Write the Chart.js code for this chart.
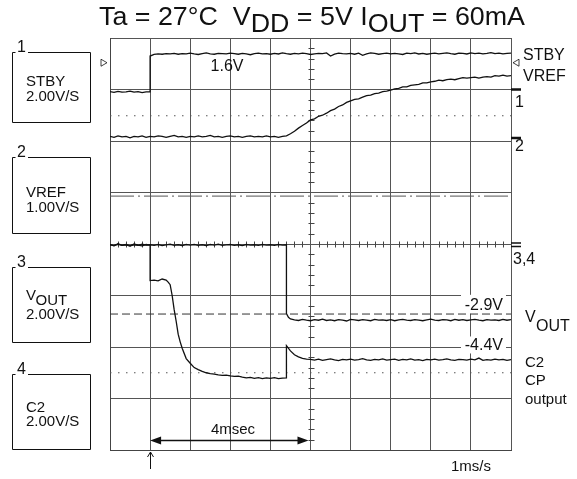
<!DOCTYPE html>
<html>
<head>
<meta charset="utf-8">
<script src="https://cdn.jsdelivr.net/npm/chart.js"></script>
<style>
    html, body { margin: 0; padding: 0; background: #fff; }
    #wrap { width: 577px; height: 479px; position: relative; }
</style>
</head>
<body>
<div id="wrap"><canvas id="scope"></canvas></div>
<script>
    // time in ms (1 ms/div, trigger at 0), values in volts

    // CH1 STBY
    const stbyTime = [
        -1.0,-0.9,-0.8,-0.7,-0.6,-0.5,-0.4,-0.3,-0.2,-0.1, 0, 0,
        0.1,0.2,0.3,0.4,0.5,0.6,0.7,0.8,0.9,1.0,
        1.1,1.2,1.3,1.4,1.5,1.6,1.7,1.8,1.9,2.0,
        2.1,2.2,2.3,2.4,2.5,2.6,2.7,2.8,2.9,3.0,
        3.1,3.2,3.3,3.4,3.5,3.6,3.7,3.8,3.9,4.0,
        4.1,4.2,4.3,4.4,4.5,4.6,4.7,4.8,4.9,5.0,
        5.1,5.2,5.3,5.4,5.5,5.6,5.7,5.8,5.9,6.0,
        6.1,6.2,6.3,6.4,6.5,6.6,6.7,6.8,6.9,7.0,
        7.1,7.2,7.3,7.4,7.5,7.6,7.7,7.8,7.9,8.0,
        8.1,8.2,8.3,8.4,8.5,8.6,8.7,8.8,8.9,9.0
    ];
    const stbyVolts = [
        -0.08,-0.11,-0.07,-0.10,-0.09,-0.06,-0.10,-0.08,-0.12,-0.09, -0.09, 1.30,
        1.36,1.38,1.37,1.39,1.38,1.40,1.37,1.39,1.38,1.41,
        1.38,1.36,1.39,1.42,1.38,1.37,1.40,1.39,1.38,1.41,
        1.39,1.37,1.40,1.38,1.35,1.39,1.41,1.38,1.39,1.37,
        1.40,1.38,1.42,1.39,1.37,1.40,1.38,1.41,1.39,1.36,
        1.38,1.40,1.39,1.42,1.30,1.37,1.41,1.39,1.38,1.40,
        1.37,1.41,1.33,1.38,1.42,1.40,1.37,1.39,1.41,1.38,
        1.40,1.38,1.36,1.41,1.39,1.42,1.38,1.40,1.37,1.39,
        1.41,1.38,1.40,1.42,1.39,1.37,1.41,1.40,1.38,1.42,
        1.39,1.41,1.38,1.40,1.43,1.39,1.41,1.38,1.40,1.41
    ];

    // CH2 VREF
    const vrefTime = [
        -1.0,-0.9,-0.8,-0.7,-0.6,-0.5,-0.4,-0.3,-0.2,-0.1,
        0.0,0.1,0.2,0.3,0.4,0.5,0.6,0.7,0.8,0.9,
        1.0,1.1,1.2,1.3,1.4,1.5,1.6,1.7,1.8,1.9,
        2.0,2.1,2.2,2.3,2.4,2.5,2.6,2.7,2.8,2.9,
        3.0,3.1,3.2,3.3,3.4,3.5,3.6,3.7,3.8,3.9,
        4.0,4.1,4.2,4.3,4.4,4.5,4.6,4.7,4.8,4.9,
        5.0,5.1,5.2,5.3,5.4,5.5,5.6,5.7,5.8,5.9,
        6.0,6.1,6.2,6.3,6.4,6.5,6.6,6.7,6.8,6.9,
        7.0,7.1,7.2,7.3,7.4,7.5,7.6,7.7,7.8,7.9,
        8.0,8.1,8.2,8.3,8.4,8.5,8.6,8.7,8.8,8.9,
        9.0
    ];
    const vrefVolts = [
        0.03,0.01,0.04,0.02,0.03,0.00,0.03,0.02,0.04,0.01,
        0.03,0.02,0.04,0.03,0.01,0.03,0.05,0.02,0.03,0.01,
        0.03,0.02,0.04,0.02,0.03,0.05,0.02,0.03,0.01,0.03,
        0.04,0.02,0.03,0.01,0.03,0.04,0.02,0.03,0.02,0.04,
        0.02,0.03,0.01,0.03,0.04,0.08,0.13,0.19,0.24,0.29,
        0.35,0.37,0.42,0.44,0.48,0.53,0.56,0.61,0.64,0.69,
        0.72,0.75,0.76,0.79,0.82,0.83,0.86,0.87,0.90,0.91,
        0.93,0.95,0.96,0.99,0.99,1.02,1.03,1.04,1.07,1.07,
        1.09,1.10,1.12,1.11,1.13,1.14,1.13,1.15,1.17,1.16,
        1.17,1.18,1.16,1.18,1.19,1.18,1.21,1.20,1.22,1.20,
        1.21
    ];

    // CH3 VOUT
    const voutTime = [
        -1.0,-0.9,-0.8,-0.7,-0.6,-0.5,-0.4,-0.3,-0.2,-0.1,
        0.0,0.1,0.2,0.3,0.4,0.5,0.6,0.7,0.8,0.9,
        1.0,1.1,1.2,1.3,1.4,1.5,1.6,1.7,1.8,1.9,
        2.0,2.1,2.2,2.3,2.4,2.5,2.6,2.7,2.8,2.9,
        3.0,3.1,3.2,3.3,3.4, 3.4,3.45,3.5,
        3.6,3.7,3.8,3.9,4.0,4.1,4.2,4.3,4.4,4.5,
        4.6,4.7,4.8,4.9,5.0,5.1,5.2,5.3,5.4,5.5,
        5.6,5.7,5.8,5.9,6.0,6.1,6.2,6.3,6.4,6.5,
        6.6,6.7,6.8,6.9,7.0,7.1,7.2,7.3,7.4,7.5,
        7.6,7.7,7.8,7.9,8.0,8.1,8.2,8.3,8.4,8.5,
        8.6,8.7,8.8,8.9,9.0
    ];
    const voutVolts = [
        -0.03,-0.06,-0.01,-0.05,-0.02,-0.07,-0.03,-0.05,-0.01,-0.04,
        -0.03,-0.05,-0.02,-0.06,-0.03,-0.01,-0.05,-0.03,-0.06,-0.02,
        -0.04,-0.02,-0.05,-0.03,-0.06,-0.02,-0.04,-0.01,-0.05,-0.03,
        -0.02,-0.05,-0.03,-0.06,-0.02,-0.04,-0.03,-0.05,-0.02,-0.04,
        -0.03,-0.05,-0.02,-0.04,-0.03, -2.70,-2.85,-2.91,
        -2.95,-2.97,-2.93,-2.96,-2.98,-2.94,-2.96,-2.92,-2.97,-2.95,
        -2.98,-2.94,-2.96,-2.99,-2.93,-2.95,-2.97,-2.94,-2.96,-2.98,
        -2.93,-2.96,-2.95,-2.97,-2.94,-2.98,-2.95,-2.93,-2.96,-2.97,
        -2.94,-2.96,-2.98,-2.95,-2.92,-2.96,-2.97,-2.94,-2.95,-2.98,
        -2.93,-2.96,-2.94,-2.97,-2.95,-2.93,-2.96,-2.98,-2.94,-2.96,
        -2.95,-2.97,-2.93,-2.96,-2.94
    ];

    // CH4 C2 (charge pump output)
    const c2Time = [
        -1.0,-0.9,-0.8,-0.7,-0.6,-0.5,-0.4,-0.3,-0.2,-0.1,0,
        0,0.1,0.2,0.3,0.4,0.45,0.5,0.55,0.6,0.65,0.7,0.75,0.8,0.9,
        1.0,1.1,1.2,1.3,1.4,1.5,1.6,1.7,1.8,1.9,
        2.0,2.1,2.2,2.3,2.4,2.5,2.6,2.7,2.8,2.9,
        3.0,3.1,3.2,3.3,3.4, 3.4,
        3.5,3.6,3.7,3.8,3.9,
        4.0,4.1,4.2,4.3,4.4,4.5,4.6,4.7,4.8,4.9,
        5.0,5.1,5.2,5.3,5.4,5.5,5.6,5.7,5.8,5.9,
        6.0,6.1,6.2,6.3,6.4,6.5,6.6,6.7,6.8,6.9,
        7.0,7.1,7.2,7.3,7.4,7.5,7.6,7.7,7.8,7.9,
        8.0,8.1,8.2,8.3,8.4,8.5,8.6,8.7,8.8,8.9,
        9.0
    ];
    const c2Volts = [
        -0.02,-0.07,0.01,-0.05,-0.03,-0.08,0.00,-0.04,-0.07,-0.02,-0.04,
        -1.42,-1.40,-1.43,-1.36,-1.40,-1.48,-1.58,-2.00,-2.55,-3.00,-3.50,-3.80,-4.05,-4.45,
        -4.63,-4.80,-4.88,-4.95,-5.00,-5.03,-5.05,-5.08,-5.10,-5.09,
        -5.12,-5.14,-5.13,-5.17,-5.20,-5.18,-5.22,-5.19,-5.23,-5.20,
        -5.22,-5.19,-5.23,-5.21,-5.20, -3.95,
        -4.15,-4.30,-4.38,-4.44,-4.47,
        -4.48,-4.51,-4.47,-4.52,-4.49,-4.46,-4.50,-4.53,-4.48,-4.50,
        -4.47,-4.51,-4.49,-4.45,-4.50,-4.52,-4.48,-4.50,-4.46,-4.51,
        -4.49,-4.47,-4.52,-4.48,-4.50,-4.46,-4.51,-4.49,-4.53,-4.48,
        -4.50,-4.47,-4.51,-4.49,-4.46,-4.50,-4.52,-4.48,-4.49,-4.51,
        -4.47,-4.50,-4.43,-4.52,-4.49,-4.51,-4.47,-4.50,-4.48,-4.52,
        -4.49
    ];

    // screen divisions: ground marker and V/div of each channel
    const chOffset = { stby: 7.0, vref: 6.06, vout: 4.0, c2: 4.0 };
    const chVdiv   = { stby: 2, vref: 1, vout: 2, c2: 2 };

    // cursor lines (in screen divisions)
    const dotLevels = [6.49, 1.5];
    const dashDotLevel = 4.93;
    const dashLevel = 2.64;

    const FONT = '"Liberation Sans", Arial, Helvetica, sans-serif';

    function toPoints(times, volts, ch) {
        return times.map((t, i) => ({ x: t, y: chOffset[ch] + volts[i] / chVdiv[ch] }));
    }
    function hLine(level) {
        return [{ x: -1, y: level }, { x: 9, y: level }];
    }

    const traceStyle = { borderColor: '#111', borderWidth: 1.3, pointRadius: 0, tension: 0, fill: false, order: 1 };
    const cursorStyle = { borderColor: '#555', borderWidth: 1, pointRadius: 0, fill: false, order: 2 };

    const datasets = [
        { ...cursorStyle, data: hLine(dotLevels[0]), borderDash: [1.5, 6.5] },
        { ...cursorStyle, data: hLine(dotLevels[1]), borderDash: [1.5, 6.5] },
        { ...cursorStyle, data: hLine(dashDotLevel), borderDash: [24, 4, 2, 4] },
        { ...cursorStyle, data: hLine(dashLevel), borderDash: [8, 4], borderColor: '#333' },
        { ...traceStyle, label: 'STBY', data: toPoints(stbyTime, stbyVolts, 'stby') },
        { ...traceStyle, label: 'VREF', data: toPoints(vrefTime, vrefVolts, 'vref') },
        { ...traceStyle, label: 'VOUT', data: toPoints(voutTime, voutVolts, 'vout') },
        { ...traceStyle, label: 'C2', data: toPoints(c2Time, c2Volts, 'c2') }
    ];

    function text(ctx, s, x, y, size, align) {
        ctx.font = size + 'px ' + FONT;
        ctx.textAlign = align || 'left';
        ctx.textBaseline = 'middle';
        ctx.fillText(s, x, y);
    }

    // everything around the graticule that a scope screen shot carries
    const scopeDecor = {
        id: 'scopeDecor',
        beforeDatasetsDraw(chart) {
            const { ctx, chartArea: ca, scales: { x, y } } = chart;
            ctx.save();
            // minor ticks on the centre axes
            ctx.strokeStyle = '#444';
            ctx.lineWidth = 1;
            ctx.beginPath();
            const cx = Math.round(x.getPixelForValue(4)) + 0.5;
            const cy = Math.round(y.getPixelForValue(4)) + 0.5;
            for (let k = 1; k < 50; k++) {
                if (k % 5 === 0) continue;
                const px = Math.round(x.getPixelForValue(-1 + k * 0.2)) + 0.5;
                ctx.moveTo(px, cy - 3); ctx.lineTo(px, cy + 3);
            }
            for (let k = 1; k < 40; k++) {
                if (k % 5 === 0) continue;
                const py = Math.round(y.getPixelForValue(k * 0.2)) + 0.5;
                ctx.moveTo(cx - 3, py); ctx.lineTo(cx + 3, py);
            }
            ctx.stroke();
            // white patches under the level labels
            ctx.fillStyle = '#fff';
            ctx.fillRect(ca.right - 50, y.getPixelForValue(2.8) - 11, 45, 19);
            ctx.fillRect(ca.right - 50, y.getPixelForValue(2.03) - 9, 45, 17);
            ctx.restore();
        },
        afterDraw(chart) {
            const { ctx, chartArea: ca, scales: { x, y } } = chart;
            ctx.save();
            ctx.fillStyle = '#111';
            ctx.strokeStyle = '#111';

            // title with lowered subscripts, stretched to the width it has on the screen shot
            const parts = [['Ta = 27°C  V', 0], ['DD', 7], [' = 5V I', 0], ['OUT', 7], [' = 60mA', 0]];
            ctx.font = '25px ' + FONT;
            ctx.textAlign = 'left';
            ctx.textBaseline = 'alphabetic';
            const total = parts.reduce((w, p) => w + ctx.measureText(p[0]).width, 0);
            ctx.save();
            ctx.translate(99, 0);
            ctx.scale(426 / total, 1);
            let tx = 0;
            parts.forEach(([s, dy]) => { ctx.fillText(s, tx, 25 + dy); tx += ctx.measureText(s).width; });
            ctx.restore();

            // channel boxes on the left
            const boxes = [
                { n: '1', top: 52, bottom: 122, lines: [['STBY', 81.5], ['2.00V/S', 97]] },
                { n: '2', top: 157, bottom: 233, lines: [['VREF', 193], ['1.00V/S', 207.5]] },
                { n: '3', top: 267, bottom: 342, lines: [['2.00V/S', 315]] },
                { n: '4', top: 374, bottom: 449, lines: [['C2', 407.5], ['2.00V/S', 422]] }
            ];
            ctx.lineWidth = 1;
            boxes.forEach(b => {
                ctx.beginPath();
                ctx.moveTo(12.5, b.top + 0.5); ctx.lineTo(15.5, b.top + 0.5);
                ctx.moveTo(28, b.top + 0.5); ctx.lineTo(90.5, b.top + 0.5);
                ctx.lineTo(90.5, b.bottom + 0.5); ctx.lineTo(12.5, b.bottom + 0.5);
                ctx.lineTo(12.5, b.top + 0.5);
                ctx.stroke();
                text(ctx, b.n, 17, b.top - 4, 16);
                b.lines.forEach(([s, ly]) => text(ctx, s, 26, ly, 15));
            });
            text(ctx, 'V', 26, 296, 15);
            text(ctx, 'OUT', 35.5, 301, 15);

            // trigger level triangles
            const ty = y.getPixelForValue(7.52);
            ctx.beginPath();
            ctx.moveTo(ca.left - 9, ty - 3.5); ctx.lineTo(ca.left - 3, ty); ctx.lineTo(ca.left - 9, ty + 3.5); ctx.closePath();
            ctx.moveTo(ca.right + 8, ty - 3.5); ctx.lineTo(ca.right + 2, ty); ctx.lineTo(ca.right + 8, ty + 3.5); ctx.closePath();
            ctx.lineWidth = 0.8;
            ctx.stroke();

            // ground markers on the right
            ctx.lineWidth = 2.5;
            ctx.beginPath();
            [chOffset.stby, chOffset.vref].forEach(lv => {
                const py = y.getPixelForValue(lv);
                ctx.moveTo(ca.right, py); ctx.lineTo(ca.right + 10, py);
            });
            ctx.stroke();
            ctx.lineWidth = 1.5;
            ctx.beginPath();
            const gy = y.getPixelForValue(chOffset.vout);
            ctx.moveTo(ca.right, gy - 1); ctx.lineTo(ca.right + 10, gy - 1);
            ctx.moveTo(ca.right, gy + 2.5); ctx.lineTo(ca.right + 10, gy + 2.5);
            ctx.stroke();

            // right side labels
            text(ctx, 'STBY', 523, 56, 16);
            text(ctx, 'VREF', 523, 77, 16);
            text(ctx, '1', 515, 103, 16);
            text(ctx, '2', 515, 147, 16);
            text(ctx, '3,4', 513, 260, 16);
            text(ctx, 'V', 525, 318, 16);
            text(ctx, 'OUT', 536, 327, 16);
            text(ctx, 'C2', 525, 363, 15);
            text(ctx, 'CP', 525, 381, 15);
            text(ctx, 'output', 525, 400, 15);

            // in-graticule labels
            text(ctx, '1.6V', 227, 67, 16, 'center');
            text(ctx, '-2.9V', ca.right - 8, y.getPixelForValue(2.8), 16, 'right');
            text(ctx, '-4.4V', ca.right - 8, y.getPixelForValue(2.03), 16, 'right');

            // 4 msec span arrow
            const ax0 = x.getPixelForValue(0), ax1 = x.getPixelForValue(3.95), ay = 440.5;
            ctx.lineWidth = 1.5;
            ctx.beginPath(); ctx.moveTo(ax0 + 6, ay); ctx.lineTo(ax1 - 6, ay); ctx.stroke();
            ctx.beginPath();
            ctx.moveTo(ax0, ay); ctx.lineTo(ax0 + 11, ay - 4); ctx.lineTo(ax0 + 11, ay + 4); ctx.closePath();
            ctx.moveTo(ax1, ay); ctx.lineTo(ax1 - 11, ay - 4); ctx.lineTo(ax1 - 11, ay + 4); ctx.closePath();
            ctx.fill();
            text(ctx, '4msec', 233, 430, 15, 'center');

            // trigger point arrow below the graticule
            const vx = Math.round(ax0) + 0.5;
            ctx.lineWidth = 1;
            ctx.beginPath();
            ctx.moveTo(vx, 469); ctx.lineTo(vx, 452);
            ctx.moveTo(vx - 3, 457); ctx.lineTo(vx, 452); ctx.lineTo(vx + 3, 457);
            ctx.stroke();

            text(ctx, '1ms/s', 471, 467, 15, 'center');
            ctx.restore();
        }
    };

    const gridOpts = { color: '#555', lineWidth: 1, drawTicks: false };
    new Chart(document.getElementById('scope'), {
        type: 'line',
        data: { datasets },
        options: {
            responsive: true,
            maintainAspectRatio: false,
            animation: false,
            layout: { padding: { left: 110, right: 66, top: 38, bottom: 29 } },
            plugins: { legend: { display: false }, tooltip: { enabled: false } },
            scales: {
                x: {
                    type: 'linear', min: -1, max: 9,
                    ticks: { display: false, stepSize: 1 },
                    grid: gridOpts,
                    border: { display: true, color: '#444', width: 1 }
                },
                y: {
                    type: 'linear', min: 0, max: 8,
                    ticks: { display: false, stepSize: 1 },
                    grid: gridOpts,
                    border: { display: true, color: '#444', width: 1 }
                }
            }
        },
        plugins: [scopeDecor]
    });
</script>
</body>
</html>
